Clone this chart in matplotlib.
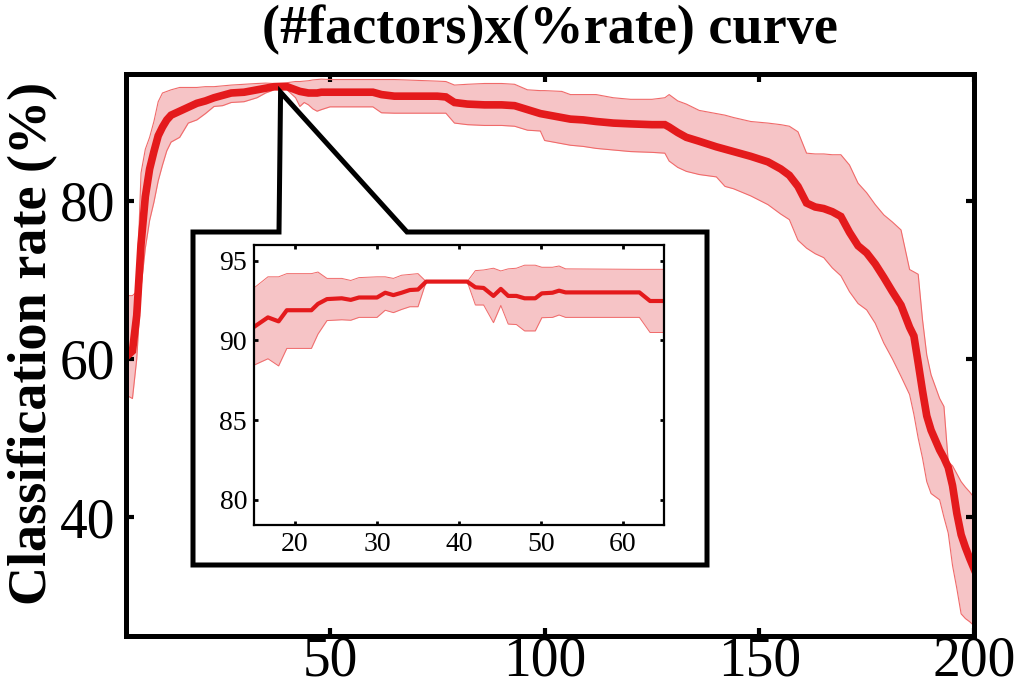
import matplotlib

matplotlib.use("Agg")
import matplotlib.pyplot as plt
import numpy as np
from matplotlib.patches import Polygon

# main curve: number of factors vs classification rate (mean and band)
x_main = [3, 4, 5, 6, 7, 8, 9, 10, 11, 12, 13, 15, 17, 19, 21, 23, 25, 27, 30, 33,
          35, 37, 40, 42, 43, 44, 45, 46, 47, 48, 50, 55, 60, 62, 65, 70, 75, 77, 79, 82,
          86, 90, 93, 96, 99, 100, 104, 106, 109, 112, 116, 120, 125, 128, 129, 131, 133, 136, 140, 142,
          144, 148, 152, 155, 157, 159, 161, 163, 165, 167, 169, 171, 173, 175, 177, 179, 181, 183, 185, 186,
          187, 188, 189, 190, 192, 193, 194, 195, 196, 197, 198, 199, 200]
mean_main = [60.5, 61.0, 65.5, 74.5, 80.5, 84.0, 86.2, 88.2, 89.3, 90.2, 90.8, 91.3, 91.8, 92.3, 92.6, 93.0, 93.3, 93.6, 93.7, 94.0,
             94.2, 94.4, 94.4, 94.0, 93.8, 93.7, 93.6, 93.6, 93.6, 93.7, 93.7, 93.7, 93.7, 93.4, 93.2, 93.2, 93.2, 93.1, 92.4, 92.2,
             92.1, 92.1, 92.0, 91.5, 91.0, 90.9, 90.5, 90.3, 90.2, 90.0, 89.8, 89.7, 89.6, 89.6, 89.3, 88.6, 88.0, 87.5, 86.8, 86.5,
             86.2, 85.6, 84.9, 84.0, 83.2, 81.8, 79.7, 79.2, 79.0, 78.6, 78.0, 76.0, 74.3, 73.4, 72.0, 70.3, 68.5, 66.8, 64.0, 62.9,
             59.5, 56.0, 52.8, 51.0, 48.5, 47.5, 46.3, 44.0, 40.5, 37.8, 36.2, 34.8, 33.5]
lower_main = [55.3, 55.0, 60.0, 69.0, 74.0, 77.5, 79.8, 82.5, 84.5, 86.3, 87.4, 88.0, 89.8, 90.2, 91.0, 91.9, 92.0, 92.4, 92.5, 93.0,
              93.6, 94.0, 94.0, 93.0, 91.9, 92.4, 92.1, 91.6, 91.3, 91.5, 91.85, 91.85, 91.85, 91.1, 91.05, 91.05, 91.05, 91.05, 89.8, 89.6,
              89.5, 89.5, 89.4, 88.9, 88.8, 87.6, 87.2, 87.0, 86.85, 86.6, 86.4, 86.2, 86.1, 86.0, 85.0, 84.2, 83.7, 83.3, 83.0, 81.8,
              81.5, 80.6, 79.5, 78.3, 77.6, 75.0, 74.0, 73.3, 72.8, 71.5, 70.5, 68.5, 67.0, 66.2, 64.5, 62.0, 60.0, 57.8, 55.5, 53.0,
              50.0, 47.5, 44.5, 43.0, 42.2, 40.0, 38.0, 33.9, 31.0, 27.8, 27.2, 26.8, 26.3]
upper_main = [68.0, 68.0, 68.5, 83.5, 86.5, 88.0, 90.0, 92.5, 93.6, 93.8, 94.0, 94.3, 94.3, 94.3, 94.4, 94.4, 94.5, 94.6, 94.7, 94.8,
              94.85, 94.8, 94.9, 95.05, 95.05, 95.1, 95.15, 95.25, 95.3, 95.35, 95.3, 95.3, 95.3, 95.3, 95.3, 95.2, 95.1, 95.05, 94.6, 94.7,
              94.8, 94.8, 94.7, 94.0, 93.9, 93.9, 93.8, 93.4, 93.4, 93.4, 93.0, 92.8, 92.8, 93.0, 93.4, 92.6, 92.2, 91.4, 91.0, 90.8,
              90.5, 90.0, 89.8, 89.6, 89.4, 88.7, 86.0, 85.9, 85.9, 85.8, 85.8, 84.5, 82.2, 81.0, 79.5, 78.2, 77.3, 76.3, 71.3, 71.0,
              70.7, 65.0, 60.5, 58.0, 55.0, 54.0, 47.0, 46.5, 45.5, 44.5, 43.8, 43.2, 42.5]

# zoomed view around the peak
x_inset = [15, 16.7, 18, 19, 22, 22.8, 23.9, 25.7, 26.8, 27.8, 30, 31, 32, 33, 34, 35, 36, 41,
           42, 43, 44.2, 45.1, 46, 47, 48, 49.3, 50.1, 51.4, 52.2, 53, 62, 63.3, 65]
mean_inset = [90.85, 91.45, 91.2, 91.9, 91.9, 92.3, 92.6, 92.65, 92.55, 92.7, 92.7, 93.0, 92.85, 93.0, 93.17, 93.2, 93.7, 93.7,
              93.34, 93.3, 92.8, 93.24, 92.8, 92.8, 92.65, 92.65, 92.96, 93.0, 93.13, 93.02, 93.02, 92.48, 92.48]
lower_inset = [88.45, 88.85, 88.4, 89.5, 89.5, 90.4, 91.25, 91.3, 91.27, 91.45, 91.45, 91.9, 91.75, 91.95, 92.12, 92.12, 93.7, 93.7,
               92.23, 92.23, 91.12, 92.2, 91.03, 91.0, 90.6, 90.6, 91.43, 91.45, 91.6, 91.45, 91.45, 90.5, 90.5]
upper_inset = [93.3, 94.0, 94.0, 94.2, 94.2, 94.3, 93.9, 93.9, 93.77, 93.95, 94.0, 94.0, 93.9, 94.1, 94.15, 94.2, 93.7, 93.7,
               94.39, 94.43, 94.54, 94.37, 94.5, 94.54, 94.73, 94.73, 94.6, 94.6, 94.68, 94.5, 94.47, 94.47, 94.47]

main_xticks = [50, 100, 150, 200]
main_yticks = [40, 60, 80]
inset_xticks = [20, 30, 40, 50, 60]
inset_yticks = [80, 85, 90, 95]

LINE = "#e41a1c"
BAND = "#f6c4c6"
EDGE = "#f06a6a"
SERIF = ["Liberation Serif", "DejaVu Serif"]

W, H = 1015, 693
fig = plt.figure(figsize=(W / 100, H / 100), dpi=100)
plt.rcParams["font.family"] = SERIF


def px_axes(left, top, right, bottom):
    return [left / W, 1 - bottom / H, (right - left) / W, (bottom - top) / H]


ax = fig.add_axes(px_axes(126, 74, 974, 636))
ax.fill_between(x_main, lower_main, upper_main, color=BAND, lw=0)
ax.plot(x_main, lower_main, color=EDGE, lw=0.8)
ax.plot(x_main, upper_main, color=EDGE, lw=0.8)
ax.plot(x_main, mean_main, color=LINE, lw=5.5, solid_joinstyle="miter")
ax.set_xlim(2.5, 200)
ax.set_ylim(25, 96)
ax.set_xticks(main_xticks)
ax.set_yticks(main_yticks)
ax.tick_params(direction="in", length=6, width=3, labelsize=40, top=True, right=True)
ax.tick_params(axis="x", pad=0)
ax.tick_params(axis="y", pad=8)
for sp in ax.spines.values():
    sp.set_linewidth(3.6)
ax.set_ylabel("Classification rate (%)", fontsize=39, fontweight="bold")
ax.yaxis.set_label_coords(-0.080, 0.521)
ax.set_title("(#factors)x(%rate) curve", fontsize=39, fontweight="bold", pad=22)

# inset axes
axi = fig.add_axes(px_axes(254, 245, 664, 525))
axi.set_zorder(3)
axi.fill_between(x_inset, lower_inset, upper_inset, color=BAND, lw=0)
axi.plot(x_inset, lower_inset, color=EDGE, lw=0.7)
axi.plot(x_inset, upper_inset, color=EDGE, lw=0.7)
axi.plot(x_inset, mean_inset, color=LINE, lw=3)
axi.set_xlim(15, 65)
axi.set_ylim(78.4, 96)
axi.set_xticks(inset_xticks)
axi.set_yticks(inset_yticks)
axi.tick_params(direction="in", length=3, width=2, labelsize=20, pad=5, top=True, right=True)
for sp in axi.spines.values():
    sp.set_linewidth(1.6)

# callout frame pointing at the peak of the curve
peak = int(np.argmax(mean_inset))
plateau = [x for x, m in zip(x_inset, mean_inset) if m == mean_inset[peak]]
tip_data = (np.mean(plateau), mean_inset[peak])
tip = fig.transFigure.inverted().transform(ax.transData.transform(tip_data))
inset_box = axi.get_position()
bl, br = inset_box.x0 - 61 / W, inset_box.x1 + 43 / W
bt, bb = inset_box.y1 + 13 / H, inset_box.y0 - 40 / H
frame = Polygon(
    [(bl, bt), (279 / W, bt), tuple(tip), (407 / W, bt), (br, bt), (br, bb), (bl, bb)],
    closed=True, facecolor="white", edgecolor="black", lw=3.6,
    transform=fig.transFigure, zorder=2, joinstyle="miter",
)
fig.add_artist(frame)

fig.savefig("out.png", dpi=100)
